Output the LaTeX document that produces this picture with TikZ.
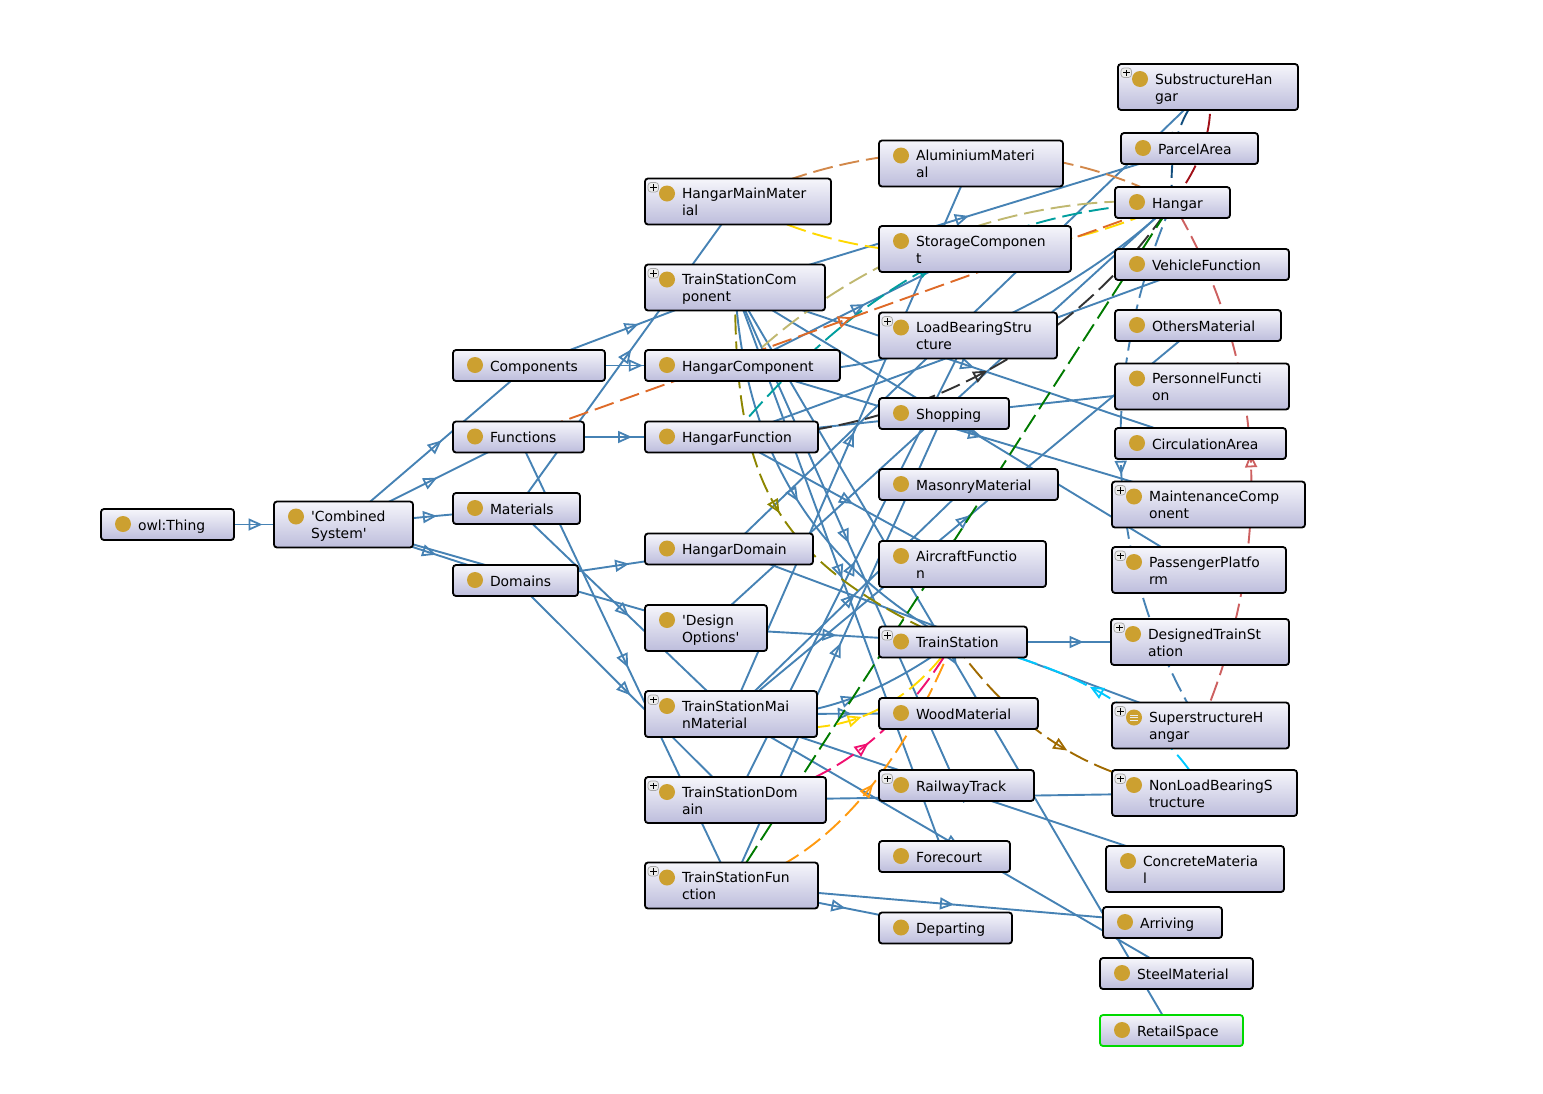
\documentclass[tikz,border=0pt]{standalone}
\usepackage{fontspec}
\newfontfamily\classfont{DejaVu Sans}
\usetikzlibrary{arrows.meta,backgrounds,decorations.markings}
\definecolor{isablue}{HTML}{4682B4}
\definecolor{classgold}{HTML}{CCA030}
\definecolor{boxtop}{HTML}{F6F6FB}
\definecolor{boxbottom}{HTML}{BDBDDC}
\definecolor{relpeach}{HTML}{D2884A}
\definecolor{relgold}{HTML}{FFD800}
\definecolor{relkhaki}{HTML}{C0B870}
\definecolor{relteal}{HTML}{009E9E}
\definecolor{relblack}{HTML}{333333}
\definecolor{relrust}{HTML}{DE6A28}
\definecolor{relgreen}{HTML}{007A00}
\definecolor{relpink}{HTML}{F01070}
\definecolor{relorange}{HTML}{FF9A10}
\definecolor{relcyan}{HTML}{00C8FF}
\definecolor{relbrown}{HTML}{A06A00}
\definecolor{relsalmon}{HTML}{CD6060}
\definecolor{relcrimson}{HTML}{A01018}
\definecolor{relnavy}{HTML}{104C7C}
\newcommand{\plusicon}{
  \draw[fill=gray!15,draw=gray!70,line width=.7pt] ([shift={(3pt,-4pt)}]path picture bounding box.north west) rectangle +(10.5pt,-9.5pt);
  \draw[black,line width=1.2pt] ([shift={(5pt,-8.75pt)}]path picture bounding box.north west) -- +(6.5pt,0pt);
  \draw[black,line width=1.2pt] ([shift={(8.25pt,-5.5pt)}]path picture bounding box.north west) -- +(0pt,-6.5pt);
}
\newcommand{\equalicon}{
  \draw[gray!15,line width=1pt] ([shift={(18pt,-12.5pt)}]path picture bounding box.north west) -- +(8pt,0pt);
  \draw[gray!15,line width=1pt] ([shift={(18pt,-15pt)}]path picture bounding box.north west) -- +(8pt,0pt);
  \draw[gray!15,line width=1pt] ([shift={(18pt,-17.5pt)}]path picture bounding box.north west) -- +(8pt,0pt);
}
\tikzset{
  classnode/.style = {shape=rectangle, rounded corners=3pt, draw=black,
    line width=1.8pt, top color=boxtop, bottom color=boxbottom, align=left,
    inner xsep=0pt, inner ysep=0pt, minimum height=31pt,
    font=\classfont\fontsize{13.9}{17}\selectfont,
    execute at begin node={\leftskip=37pt\relax\rule{0pt}{14pt}},
    execute at end node={\rule[-3pt]{0pt}{3pt}},
    path picture={\fill[classgold] ([shift={(22pt,-15pt)}]path picture bounding box.north west) circle (8pt); #1}},
  classnode/.default = {},
  plusnode/.style = {classnode={\plusicon}},
  tallnode/.style = {minimum height=46pt},
  midarrow/.style = {postaction={decorate, decoration={markings,
    mark=at position .5 with {\arrow[xshift=7pt]{Triangle[open,length=14pt,width=12pt,line width=1.8pt]}}}}},
  isa/.style = {color=isablue, line width=1.9pt, midarrow},
  relation/.style = {color=#1, line width=1.9pt, dash pattern=on 20pt off 7pt, midarrow}
}
\begin{document}
\begin{tikzpicture}[x=1pt,y=-1pt]
  \useasboundingbox (0,0) rectangle (1543,1093);
  \node[classnode,text width=133pt] (thing) at (167.5,524.5) {owl:Thing};
  \node[classnode,tallnode,text width=139pt] (combined) at (343.5,524.5) {'Combined\\System'};
  \node[classnode,text width=152pt] (components) at (529,365.5) {Components};
  \node[classnode,text width=131pt] (functions) at (518.5,437) {Functions};
  \node[classnode,text width=127pt] (materials) at (516.5,508.5) {Materials};
  \node[classnode,text width=125pt] (domains) at (515.5,580.5) {Domains};

  \node[plusnode,tallnode,text width=186pt] (hangarmat) at (738,201.5) {HangarMainMater\\ial};
  \node[plusnode,tallnode,text width=180pt] (tscomp) at (735,287.5) {TrainStationCom\\ponent};
  \node[classnode,text width=195pt] (hangarcomp) at (742.5,365.5) {HangarComponent};
  \node[classnode,text width=173pt] (hangarfunc) at (731.5,437) {HangarFunction};
  \node[classnode,text width=168pt] (hangardom) at (729,549) {HangarDomain};
  \node[classnode,tallnode,text width=122pt] (designopt) at (706,628) {'Design\\Options'};
  \node[plusnode,tallnode,text width=172pt] (tsmat) at (731,714) {TrainStationMai\\nMaterial};
  \node[plusnode,tallnode,text width=181pt] (tsdom) at (735.5,800) {TrainStationDom\\ain};
  \node[plusnode,tallnode,text width=173pt] (tsfunc) at (731.5,885.5) {TrainStationFun\\ction};

  \node[classnode,tallnode,text width=184pt] (aluminium) at (971,163.5) {AluminiumMateri\\al};
  \node[classnode,tallnode,text width=192pt] (storage) at (975,249) {StorageComponen\\t};
  \node[plusnode,tallnode,text width=178pt] (loadbearing) at (968,335.5) {LoadBearingStru\\cture};
  \node[classnode,text width=130pt] (shopping) at (944,413.5) {Shopping};
  \node[classnode,text width=179pt] (masonry) at (968.5,484.5) {MasonryMaterial};
  \node[classnode,tallnode,text width=167pt] (aircraft) at (962.5,564) {AircraftFunctio\\n};
  \node[plusnode,text width=148pt] (trainstation) at (953,642) {TrainStation};
  \node[classnode,text width=159pt] (wood) at (958.5,713.5) {WoodMaterial};
  \node[plusnode,text width=155pt] (railway) at (956.5,785.5) {RailwayTrack};
  \node[classnode,text width=131pt] (forecourt) at (944.5,856.5) {Forecourt};
  \node[classnode,text width=133pt] (departing) at (945.5,928) {Departing};

  \node[plusnode,tallnode,text width=180pt] (substructure) at (1208,87) {SubstructureHan\\gar};
  \node[classnode,text width=137pt] (parcel) at (1189.5,148.5) {ParcelArea};
  \node[classnode,text width=115pt] (hangar) at (1172.5,202.5) {Hangar};
  \node[classnode,text width=174pt] (vehicle) at (1202,264.5) {VehicleFunction};
  \node[classnode,text width=166pt] (others) at (1198,325.5) {OthersMaterial};
  \node[classnode,tallnode,text width=174pt] (personnel) at (1202,386.5) {PersonnelFuncti\\on};
  \node[classnode,text width=171pt] (circulation) at (1200.5,443.5) {CirculationArea};
  \node[plusnode,tallnode,text width=193pt] (maintenance) at (1208.5,504.5) {MaintenanceComp\\onent};
  \node[plusnode,tallnode,text width=174pt] (passenger) at (1199,570) {PassengerPlatfo\\rm};
  \node[plusnode,tallnode,text width=178pt] (designed) at (1200,642) {DesignedTrainSt\\ation};
  \node[classnode={\plusicon\equalicon},tallnode,text width=177pt] (superstructure) at (1200.5,725.5) {SuperstructureH\\angar};
  \node[plusnode,tallnode,text width=185pt] (nonload) at (1204.5,793) {NonLoadBearingS\\tructure};
  \node[classnode,tallnode,text width=178pt] (concrete) at (1195,869) {ConcreteMateria\\l};
  \node[classnode,text width=119pt] (arriving) at (1162.5,922.5) {Arriving};
  \node[classnode,text width=153pt] (steel) at (1176.5,973.5) {SteelMaterial};
  \node[classnode,draw={green!85!black},text width=143pt] (retail) at (1171.5,1030.5) {RetailSpace};

  \begin{scope}[on background layer]
    \draw[isa] (thing.center) -- (combined.center);
    \draw[isa] (combined.center) -- (components.center);
    \draw[isa] (combined.center) -- (functions.center);
    \draw[isa] (combined.center) -- (materials.center);
    \draw[isa] (combined.center) -- (domains.center);
    \draw[isa] (combined.center) -- (designopt.center);
    \draw[isa] (components.center) -- (hangarcomp.center);
    \draw[isa] (components.center) -- (tscomp.center);
    \draw[isa] (functions.center) -- (hangarfunc.center);
    \draw[isa] (functions.center) -- (tsfunc.center);
    \draw[isa] (materials.center) -- (hangarmat.center);
    \draw[isa] (materials.center) -- (tsmat.center);
    \draw[isa] (domains.center) -- (hangardom.center);
    \draw[isa] (domains.center) -- (tsdom.center);

    \draw[isa] (tscomp.center) -- (parcel.center);
    \draw[isa] (tscomp.center) -- (circulation.center);
    \draw[isa] (tscomp.center) -- (passenger.center);
    \draw[isa] (tscomp.center) -- (railway.center);
    \draw[isa] (tscomp.center) -- (forecourt.center);
    \draw[isa] (tscomp.center) -- (retail.center);
    \draw[isa] (tscomp.center) .. controls (745,450) and (810,560) .. (trainstation.center);
    \draw[isa] (hangarcomp.center) -- (storage.center);
    \draw[isa] (hangarcomp.center) -- (maintenance.center);
    \draw[isa] (hangarcomp.center) .. controls (860,390) and (1050,320) .. (hangar.center);
    \draw[isa] (hangarfunc.center) -- (aircraft.center);
    \draw[isa] (hangarfunc.center) -- (vehicle.center);
    \draw[isa] (hangarfunc.center) -- (personnel.center);
    \draw[isa] (hangardom.center) -- (substructure.center);
    \draw[isa] (hangardom.center) -- (superstructure.center);
    \draw[isa] (designopt.center) -- (trainstation.center);
    \draw[isa] (designopt.center) -- (hangar.center);
    \draw[isa] (tsmat.center) -- (aluminium.center);
    \draw[isa] (tsmat.center) -- (masonry.center);
    \draw[isa] (tsmat.center) -- (wood.center);
    \draw[isa] (tsmat.center) -- (others.center);
    \draw[isa] (tsmat.center) -- (concrete.center);
    \draw[isa] (tsmat.center) -- (steel.center);
    \draw[isa] (tsmat.center) .. controls (810,722) and (880,695) .. (trainstation.center);
    \draw[isa] (tsdom.center) -- (loadbearing.center);
    \draw[isa] (tsdom.center) -- (nonload.center);
    \draw[isa] (tsfunc.center) -- (shopping.center);
    \draw[isa] (tsfunc.center) -- (departing.center);
    \draw[isa] (tsfunc.center) -- (arriving.center);
    \draw[isa] (trainstation.center) -- (designed.center);

    \draw[relation=relpeach] (hangarmat.center) .. controls (870,135) and (1050,135) .. (hangar.center);
    \draw[relation=relgold] (hangarmat.center) .. controls (860,270) and (1030,270) .. (hangar.center);
    \draw[relation=relkhaki] (hangarcomp.center) .. controls (840,270) and (1000,190) .. (hangar.center);
    \draw[relation=relteal] (hangarfunc.center) .. controls (830,320) and (960,210) .. (hangar.center);
    \draw[relation=relblack] (hangarfunc.center) .. controls (900,435) and (1070,355) .. (hangar.center);
    \draw[relation=relrust] (functions.center) -- (hangar.center);
    \draw[relation=relgreen] (tsfunc.center) -- (hangar.center);
    \draw[relation=olive] (tscomp.center) .. controls (735,480) and (770,560) .. (trainstation.center);
    \draw[relation=relgold] (tsmat.center) .. controls (810,745) and (895,725) .. (trainstation.center);
    \draw[relation=relpink] (tsdom.center) .. controls (830,790) and (905,725) .. (trainstation.center);
    \draw[relation=relorange] (tsfunc.center) .. controls (830,860) and (905,760) .. (trainstation.center);
    \draw[relation=relcyan] (nonload.center) .. controls (1150,700) and (1050,660) .. (trainstation.center);
    \draw[relation=relbrown] (trainstation.center) .. controls (1010,720) and (1080,780) .. (nonload.center);
    \draw[relation=isablue] (hangar.center) .. controls (1099,370) and (1099,560) .. (superstructure.center);
    \draw[relation=relsalmon] (superstructure.center) .. controls (1272,560) and (1273,370) .. (hangar.center);
    \draw[relation=relcrimson] (substructure.center) .. controls (1215,120) and (1205,160) .. (hangar.center);
    \draw[relation=relnavy] (substructure.center) .. controls (1180,110) and (1168,150) .. (hangar.center);
  \end{scope}
\end{tikzpicture}
\end{document}
